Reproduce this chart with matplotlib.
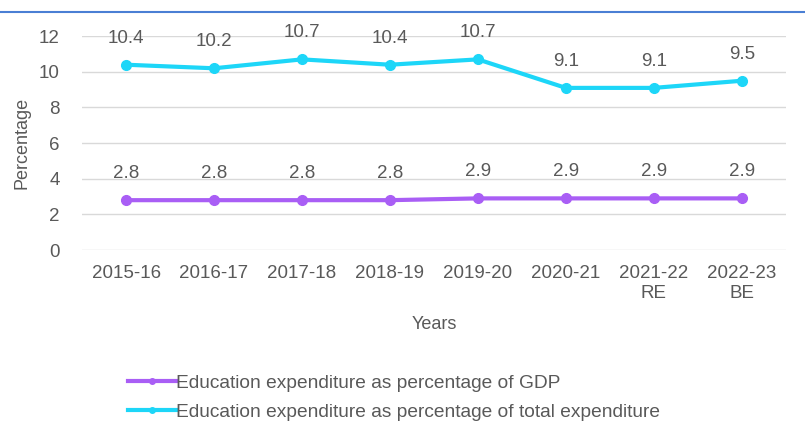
import numpy as np
import matplotlib.pyplot as plt
from matplotlib.lines import Line2D

# 数据
years = ["2015-16", "2016-17", "2017-18", "2018-19", "2019-20", "2020-21", "2021-22\nRE", "2022-23\nBE"]
gdp_share = [2.8, 2.8, 2.8, 2.8, 2.9, 2.9, 2.9, 2.9]
total_share = [10.4, 10.2, 10.7, 10.4, 10.7, 9.1, 9.1, 9.5]

txt = "#595959"
purple = "#A95EF5"
cyan = "#1DD6F8"

plt.rcParams['font.family'] = ['Liberation Sans', 'DejaVu Sans']

fig = plt.figure(figsize=(8.05, 4.21), dpi=100)
ax = fig.add_axes([0.102, 0.406, 0.874, 0.508])

x = np.arange(len(years))
ax.plot(x, gdp_share, color=purple, lw=3, marker='o', ms=7, label="Education expenditure as percentage of GDP")
ax.plot(x, total_share, color=cyan, lw=3, marker='o', ms=7, label="Education expenditure as percentage of total expenditure")

for xi, v in zip(x, gdp_share):
    ax.annotate(f"{v}", (xi, v), xytext=(0, 13), textcoords='offset points', ha='center', va='bottom', fontsize=13.5, color=txt)
for xi, v in zip(x, total_share):
    ax.annotate(f"{v}", (xi, v), xytext=(0, 13), textcoords='offset points', ha='center', va='bottom', fontsize=13.5, color=txt)

ax.set_xlim(-0.5, len(years) - 0.5)
ax.set_ylim(0, 12)
ax.set_yticks(range(0, 13, 2))
ax.set_xticks(x)
ax.set_xticklabels(years)
ax.grid(axis='y', color='#D9D9D9', lw=1)
ax.set_axisbelow(True)
for s in ax.spines.values():
    s.set_visible(False)
ax.tick_params(axis='x', length=0, labelsize=13.5, colors=txt, pad=11)
ax.tick_params(axis='y', length=0, labelsize=13.5, colors=txt, pad=16)
ax.set_xlabel("Years", fontsize=13, color=txt, labelpad=10)
ax.set_ylabel("Percentage", fontsize=13, color=txt, labelpad=6)

# 图例
h = [Line2D([0], [0], color=purple, lw=3, marker='o', ms=4),
     Line2D([0], [0], color=cyan, lw=3, marker='o', ms=4)]
fig.legend(h, ["Education expenditure as percentage of GDP",
               "Education expenditure as percentage of total expenditure"],
           loc='upper left', bbox_to_anchor=(0.138, 0.152), frameon=False, fontsize=13.8,
           labelcolor=txt, handlelength=2.5, handletextpad=0.0, labelspacing=0.6)

# 顶部蓝线
fig.add_artist(Line2D([0, 1], [1 - 12 / 421, 1 - 12 / 421], color='#4A7FD4', lw=1.5, transform=fig.transFigure))

fig.savefig("out.png", dpi=100)
